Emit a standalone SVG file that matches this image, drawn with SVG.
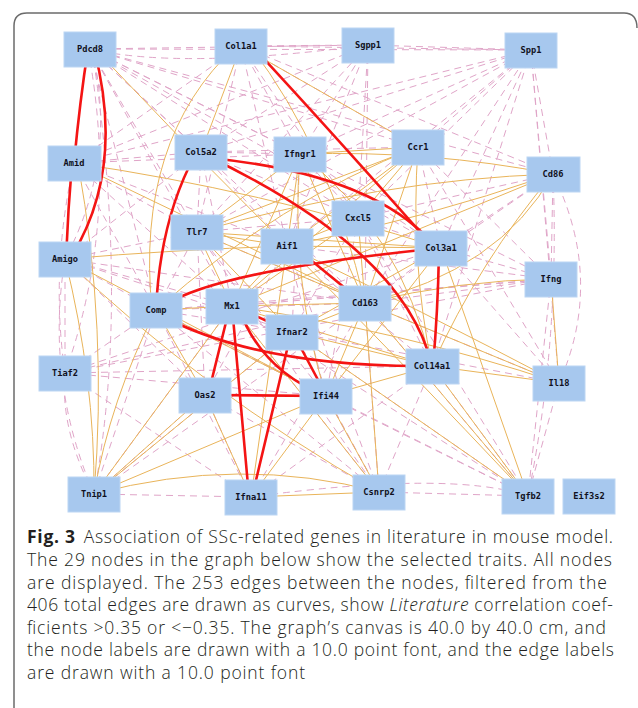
<svg xmlns="http://www.w3.org/2000/svg" width="638" height="708" viewBox="0 0 638 708">
<style>
.o{stroke:#E9B45A;stroke-width:1;fill:none}
.p{stroke:#E0A5C8;stroke-width:1;fill:none;stroke-dasharray:7 5}
.r{stroke:#F41414;stroke-width:2.6;fill:none;stroke-linecap:round}
.n rect{fill:#A7C8EE;stroke:#BCD6F3;stroke-width:1}
.n text{font-family:"DejaVu Sans Mono","Liberation Mono",monospace;font-weight:bold;font-size:8.7px;fill:#101020;text-anchor:middle}
.cap{font-family:"Open Sans","Noto Sans",sans-serif;font-size:17.5px;font-weight:300;fill:#231f20}
</style>
<rect x="0" y="0" width="638" height="708" fill="#ffffff"/>
<path d="M14,708 V26 Q14,13 27,13 H624 Q637,13 637,28" fill="none" stroke="#6b6b6b" stroke-width="1.5"/>
<g id="connectors">
<g id="pink">
<line class="p" x1="90" y1="49" x2="368" y2="45"/>
<line class="p" x1="90" y1="49" x2="531" y2="50"/>
<line class="p" x1="90" y1="49" x2="418" y2="147"/>
<line class="p" x1="90" y1="49" x2="553" y2="174"/>
<line class="p" x1="90" y1="49" x2="300" y2="154"/>
<line class="p" x1="90" y1="49" x2="358" y2="218"/>
<line class="p" x1="90" y1="49" x2="441" y2="248"/>
<line class="p" x1="90" y1="49" x2="201" y2="152"/>
<line class="p" x1="90" y1="49" x2="197" y2="232"/>
<line class="p" x1="90" y1="49" x2="156" y2="310"/>
<line class="p" x1="90" y1="49" x2="232" y2="306"/>
<line class="p" x1="90" y1="49" x2="365" y2="303"/>
<path class="p" d="M92,49 Q118,160 65,259"/>
<path class="p" d="M88,49 Q120,220 65,373"/>
<path class="p" d="M92,49 Q130,300 94,494"/>
<path class="p" d="M90,49 Q180,70 368,45"/>
<line class="p" x1="90" y1="49" x2="551" y2="279"/>
<line class="p" x1="241" y1="46" x2="368" y2="45"/>
<line class="p" x1="241" y1="46" x2="531" y2="50"/>
<line class="p" x1="241" y1="46" x2="418" y2="147"/>
<line class="p" x1="241" y1="46" x2="197" y2="232"/>
<line class="p" x1="241" y1="46" x2="287" y2="246"/>
<line class="p" x1="241" y1="46" x2="358" y2="218"/>
<line class="p" x1="241" y1="46" x2="74" y2="163"/>
<line class="p" x1="241" y1="46" x2="553" y2="174"/>
<line class="p" x1="241" y1="46" x2="300" y2="154"/>
<line class="p" x1="368" y1="45" x2="531" y2="50"/>
<line class="p" x1="368" y1="45" x2="74" y2="163"/>
<line class="p" x1="368" y1="45" x2="300" y2="154"/>
<line class="p" x1="368" y1="45" x2="358" y2="218"/>
<line class="p" x1="368" y1="45" x2="287" y2="246"/>
<line class="p" x1="368" y1="45" x2="201" y2="152"/>
<line class="p" x1="368" y1="45" x2="197" y2="232"/>
<line class="p" x1="368" y1="45" x2="365" y2="303"/>
<line class="p" x1="531" y1="50" x2="300" y2="154"/>
<line class="p" x1="531" y1="50" x2="418" y2="147"/>
<line class="p" x1="531" y1="50" x2="358" y2="218"/>
<line class="p" x1="531" y1="50" x2="441" y2="248"/>
<line class="p" x1="531" y1="50" x2="365" y2="303"/>
<line class="p" x1="531" y1="50" x2="432" y2="366"/>
<line class="p" x1="531" y1="50" x2="553" y2="174"/>
<line class="p" x1="531" y1="50" x2="551" y2="279"/>
<line class="p" x1="531" y1="50" x2="287" y2="246"/>
<line class="p" x1="531" y1="50" x2="197" y2="232"/>
<line class="p" x1="531" y1="50" x2="201" y2="152"/>
<line class="p" x1="531" y1="50" x2="74" y2="163"/>
<line class="p" x1="531" y1="50" x2="559" y2="383"/>
<line class="p" x1="74" y1="163" x2="201" y2="152"/>
<line class="p" x1="74" y1="163" x2="197" y2="232"/>
<line class="p" x1="74" y1="163" x2="156" y2="310"/>
<line class="p" x1="74" y1="163" x2="232" y2="306"/>
<line class="p" x1="74" y1="163" x2="287" y2="246"/>
<line class="p" x1="74" y1="163" x2="300" y2="154"/>
<path class="p" d="M74,163 Q50,270 65,373"/>
<line class="p" x1="201" y1="152" x2="197" y2="232"/>
<line class="p" x1="201" y1="152" x2="287" y2="246"/>
<line class="p" x1="201" y1="152" x2="65" y2="259"/>
<line class="p" x1="201" y1="152" x2="300" y2="154"/>
<line class="p" x1="201" y1="152" x2="358" y2="218"/>
<line class="p" x1="201" y1="152" x2="418" y2="147"/>
<line class="p" x1="201" y1="152" x2="232" y2="306"/>
<path class="p" d="M553,174 Q605,280 559,383"/>
<line class="p" x1="553" y1="174" x2="551" y2="279"/>
<path class="p" d="M553,174 Q560,340 528,496"/>
<line class="p" x1="553" y1="174" x2="441" y2="248"/>
<line class="p" x1="553" y1="174" x2="365" y2="303"/>
<line class="p" x1="553" y1="174" x2="358" y2="218"/>
<line class="p" x1="551" y1="279" x2="528" y2="496"/>
<line class="p" x1="551" y1="279" x2="441" y2="248"/>
<line class="p" x1="551" y1="279" x2="365" y2="303"/>
<line class="p" x1="551" y1="279" x2="232" y2="306"/>
<line class="p" x1="551" y1="279" x2="156" y2="310"/>
<line class="p" x1="551" y1="279" x2="65" y2="373"/>
<line class="p" x1="551" y1="279" x2="287" y2="246"/>
<line class="p" x1="559" y1="383" x2="528" y2="496"/>
<line class="p" x1="559" y1="383" x2="441" y2="248"/>
<line class="p" x1="559" y1="383" x2="365" y2="303"/>
<line class="p" x1="559" y1="383" x2="292" y2="332"/>
<line class="p" x1="528" y1="496" x2="379" y2="492"/>
<line class="p" x1="528" y1="496" x2="432" y2="366"/>
<line class="p" x1="528" y1="496" x2="365" y2="303"/>
<line class="p" x1="528" y1="496" x2="326" y2="396"/>
<line class="p" x1="528" y1="496" x2="232" y2="306"/>
<line class="p" x1="528" y1="496" x2="156" y2="310"/>
<line class="p" x1="528" y1="496" x2="292" y2="332"/>
<line class="p" x1="528" y1="496" x2="358" y2="218"/>
<path class="p" d="M528,496 Q450,470 251,497"/>
<line class="p" x1="379" y1="492" x2="432" y2="366"/>
<line class="p" x1="379" y1="492" x2="365" y2="303"/>
<line class="p" x1="379" y1="492" x2="326" y2="396"/>
<line class="p" x1="379" y1="492" x2="205" y2="395"/>
<line class="p" x1="379" y1="492" x2="292" y2="332"/>
<line class="p" x1="379" y1="492" x2="232" y2="306"/>
<line class="p" x1="379" y1="492" x2="287" y2="246"/>
<line class="p" x1="379" y1="492" x2="156" y2="310"/>
<line class="p" x1="379" y1="492" x2="197" y2="232"/>
<line class="p" x1="94" y1="494" x2="251" y2="497"/>
<path class="p" d="M94,494 Q60,430 65,373"/>
<path class="p" d="M94,494 Q45,380 65,259"/>
<line class="p" x1="94" y1="494" x2="156" y2="310"/>
<line class="p" x1="94" y1="494" x2="205" y2="395"/>
<line class="p" x1="94" y1="494" x2="232" y2="306"/>
<line class="p" x1="94" y1="494" x2="292" y2="332"/>
<line class="p" x1="94" y1="494" x2="365" y2="303"/>
<line class="p" x1="251" y1="497" x2="65" y2="373"/>
<line class="p" x1="251" y1="497" x2="156" y2="310"/>
<line class="p" x1="251" y1="497" x2="205" y2="395"/>
<line class="p" x1="251" y1="497" x2="432" y2="366"/>
<line class="p" x1="251" y1="497" x2="365" y2="303"/>
<line class="p" x1="65" y1="373" x2="65" y2="259"/>
<line class="p" x1="65" y1="373" x2="156" y2="310"/>
<line class="p" x1="65" y1="373" x2="365" y2="303"/>
<line class="p" x1="65" y1="373" x2="441" y2="248"/>
<line class="p" x1="65" y1="373" x2="326" y2="396"/>
<line class="p" x1="65" y1="373" x2="432" y2="366"/>
<line class="p" x1="65" y1="259" x2="156" y2="310"/>
<line class="p" x1="65" y1="259" x2="197" y2="232"/>
<line class="p" x1="65" y1="259" x2="232" y2="306"/>
<line class="p" x1="65" y1="259" x2="205" y2="395"/>
<line class="p" x1="65" y1="259" x2="292" y2="332"/>
<line class="p" x1="65" y1="259" x2="365" y2="303"/>
<line class="p" x1="156" y1="310" x2="197" y2="232"/>
<line class="p" x1="156" y1="310" x2="292" y2="332"/>
<line class="p" x1="156" y1="310" x2="365" y2="303"/>
<line class="p" x1="156" y1="310" x2="326" y2="396"/>
<line class="p" x1="197" y1="232" x2="358" y2="218"/>
<line class="p" x1="197" y1="232" x2="365" y2="303"/>
<line class="p" x1="197" y1="232" x2="205" y2="395"/>
<line class="p" x1="197" y1="232" x2="326" y2="396"/>
<line class="p" x1="358" y1="218" x2="441" y2="248"/>
<line class="p" x1="358" y1="218" x2="432" y2="366"/>
<line class="p" x1="358" y1="218" x2="326" y2="396"/>
<line class="p" x1="358" y1="218" x2="292" y2="332"/>
<line class="p" x1="418" y1="147" x2="441" y2="248"/>
<line class="p" x1="418" y1="147" x2="551" y2="279"/>
<line class="p" x1="418" y1="147" x2="559" y2="383"/>
<line class="p" x1="287" y1="246" x2="432" y2="366"/>
<line class="p" x1="287" y1="246" x2="326" y2="396"/>
<line class="p" x1="287" y1="246" x2="205" y2="395"/>
<line class="p" x1="441" y1="248" x2="365" y2="303"/>
<line class="p" x1="300" y1="154" x2="441" y2="248"/>
<line class="p" x1="300" y1="154" x2="358" y2="218"/>
<line class="p" x1="300" y1="154" x2="292" y2="332"/>
</g>
<g id="orange">
<line class="o" x1="241" y1="46" x2="201" y2="152"/>
<path class="o" d="M236,46 Q135,140 152,310"/>
<path class="o" d="M250,46 Q330,150 365,303"/>
<line class="o" x1="241" y1="46" x2="418" y2="147"/>
<path class="o" d="M95,49 Q190,150 287,246"/>
<path class="o" d="M74,163 Q260,190 441,248"/>
<path class="o" d="M78,163 Q108,330 94,494"/>
<line class="o" x1="74" y1="163" x2="365" y2="303"/>
<path class="o" d="M65,259 Q170,250 287,246"/>
<path class="o" d="M65,259 Q95,380 94,494"/>
<path class="o" d="M65,259 Q200,390 379,492"/>
<line class="o" x1="65" y1="259" x2="326" y2="396"/>
<line class="o" x1="156" y1="310" x2="232" y2="306"/>
<line class="o" x1="156" y1="310" x2="205" y2="395"/>
<line class="o" x1="156" y1="310" x2="326" y2="396"/>
<line class="o" x1="197" y1="232" x2="287" y2="246"/>
<line class="o" x1="197" y1="232" x2="418" y2="147"/>
<path class="o" d="M197,232 Q380,180 553,174"/>
<line class="o" x1="197" y1="232" x2="441" y2="248"/>
<line class="o" x1="197" y1="232" x2="232" y2="306"/>
<line class="o" x1="197" y1="232" x2="300" y2="154"/>
<line class="o" x1="197" y1="232" x2="365" y2="303"/>
<line class="o" x1="197" y1="232" x2="292" y2="332"/>
<path class="o" d="M300,154 Q430,150 553,174"/>
<line class="o" x1="300" y1="154" x2="418" y2="147"/>
<line class="o" x1="300" y1="154" x2="287" y2="246"/>
<line class="o" x1="300" y1="154" x2="365" y2="303"/>
<path class="o" d="M300,154 Q400,230 432,366"/>
<line class="o" x1="300" y1="154" x2="232" y2="306"/>
<path class="o" d="M300,154 Q290,280 326,396"/>
<line class="o" x1="418" y1="147" x2="287" y2="246"/>
<line class="o" x1="418" y1="147" x2="358" y2="218"/>
<line class="o" x1="418" y1="147" x2="365" y2="303"/>
<line class="o" x1="418" y1="147" x2="232" y2="306"/>
<path class="o" d="M418,147 Q280,200 156,310"/>
<path class="o" d="M418,147 Q410,260 432,366"/>
<path class="o" d="M553,174 Q420,220 287,246"/>
<path class="o" d="M553,174 Q480,260 432,366"/>
<path class="o" d="M553,174 Q500,270 365,303"/>
<line class="o" x1="553" y1="174" x2="232" y2="306"/>
<line class="o" x1="358" y1="218" x2="287" y2="246"/>
<line class="o" x1="358" y1="218" x2="232" y2="306"/>
<line class="o" x1="358" y1="218" x2="365" y2="303"/>
<path class="o" d="M287,246 Q400,360 528,496"/>
<line class="o" x1="287" y1="246" x2="232" y2="306"/>
<line class="o" x1="287" y1="246" x2="441" y2="248"/>
<path class="o" d="M287,246 Q420,310 559,383"/>
<line class="o" x1="287" y1="246" x2="251" y2="497"/>
<line class="o" x1="365" y1="303" x2="559" y2="383"/>
<line class="o" x1="365" y1="303" x2="326" y2="396"/>
<line class="o" x1="365" y1="303" x2="379" y2="492"/>
<line class="o" x1="365" y1="303" x2="528" y2="496"/>
<path class="o" d="M232,306 Q400,330 559,383"/>
<line class="o" x1="232" y1="306" x2="379" y2="492"/>
<line class="o" x1="232" y1="306" x2="365" y2="303"/>
<line class="o" x1="232" y1="306" x2="432" y2="366"/>
<line class="o" x1="232" y1="306" x2="94" y2="494"/>
<line class="o" x1="292" y1="332" x2="365" y2="303"/>
<line class="o" x1="292" y1="332" x2="432" y2="366"/>
<line class="o" x1="292" y1="332" x2="528" y2="496"/>
<line class="o" x1="292" y1="332" x2="94" y2="494"/>
<line class="o" x1="441" y1="248" x2="528" y2="496"/>
<line class="o" x1="441" y1="248" x2="326" y2="396"/>
<line class="o" x1="441" y1="248" x2="292" y2="332"/>
<line class="o" x1="432" y1="366" x2="528" y2="496"/>
<line class="o" x1="432" y1="366" x2="559" y2="383"/>
<line class="o" x1="432" y1="366" x2="326" y2="396"/>
<line class="o" x1="551" y1="279" x2="559" y2="383"/>
<path class="o" d="M551,279 Q460,280 365,303"/>
<line class="o" x1="205" y1="395" x2="251" y2="497"/>
<line class="o" x1="205" y1="395" x2="94" y2="494"/>
<line class="o" x1="326" y1="396" x2="251" y2="497"/>
<line class="o" x1="326" y1="396" x2="94" y2="494"/>
<line class="o" x1="326" y1="396" x2="379" y2="492"/>
<line class="o" x1="251" y1="497" x2="379" y2="492"/>
<path class="o" d="M94,494 Q240,455 379,492"/>
<path class="o" d="M94,494 Q110,400 156,310"/>
</g>
<g id="red">
<path class="r" d="M88,49 Q80,100 74,163"/>
<path class="r" d="M94,49 Q126,170 70,259"/>
<path class="r" d="M72,163 Q68,210 66,259"/>
<path class="r" d="M252,46 Q330,130 436,250"/>
<path class="r" d="M210,158 Q380,175 438,250"/>
<path class="r" d="M205,155 Q405,250 432,366"/>
<path class="r" d="M195,155 Q160,220 156,310"/>
<path class="r" d="M165,305 Q220,270 441,248"/>
<line class="r" x1="290" y1="243" x2="362" y2="302"/>
<path class="r" d="M160,315 Q260,368 432,366"/>
<path class="r" d="M439,250 Q438,310 433,366"/>
<line class="r" x1="245" y1="311" x2="280" y2="327"/>
<line class="r" x1="230" y1="306" x2="208" y2="395"/>
<line class="r" x1="232" y1="306" x2="249" y2="497"/>
<path class="r" d="M238,306 Q260,370 326,396"/>
<line class="r" x1="293" y1="333" x2="325" y2="393"/>
<line class="r" x1="291" y1="333" x2="252" y2="497"/>
<line class="r" x1="205" y1="395" x2="326" y2="396"/>
</g>
</g>
<g id="nodes">
<g id="n-Pdcd8" class="n"><rect x="64" y="32" width="52" height="35"/><text x="90" y="52">Pdcd8</text></g>
<g id="n-Col1a1" class="n"><rect x="215" y="29" width="52" height="35"/><text x="241" y="49">Col1a1</text></g>
<g id="n-Sgpp1" class="n"><rect x="342" y="28" width="52" height="35"/><text x="368" y="48">Sgpp1</text></g>
<g id="n-Spp1" class="n"><rect x="505" y="33" width="52" height="35"/><text x="531" y="53">Spp1</text></g>
<g id="n-Amid" class="n"><rect x="48" y="146" width="53" height="35"/><text x="74" y="166">Amid</text></g>
<g id="n-Col5a2" class="n"><rect x="175" y="135" width="52" height="35"/><text x="201" y="155">Col5a2</text></g>
<g id="n-Ifngr1" class="n"><rect x="274" y="137" width="52" height="35"/><text x="300" y="157">Ifngr1</text></g>
<g id="n-Ccr1" class="n"><rect x="392" y="130" width="52" height="35"/><text x="418" y="150">Ccr1</text></g>
<g id="n-Cd86" class="n"><rect x="527" y="157" width="53" height="35"/><text x="553" y="177">Cd86</text></g>
<g id="n-Cxcl5" class="n"><rect x="332" y="201" width="52" height="35"/><text x="358" y="221">Cxcl5</text></g>
<g id="n-Tlr7" class="n"><rect x="171" y="215" width="52" height="35"/><text x="197" y="235">Tlr7</text></g>
<g id="n-Aif1" class="n"><rect x="261" y="229" width="52" height="35"/><text x="287" y="249">Aif1</text></g>
<g id="n-Col3a1" class="n"><rect x="415" y="231" width="52" height="35"/><text x="441" y="251">Col3a1</text></g>
<g id="n-Amigo" class="n"><rect x="39" y="242" width="52" height="35"/><text x="65" y="262">Amigo</text></g>
<g id="n-Ifng" class="n"><rect x="525" y="262" width="52" height="35"/><text x="551" y="282">Ifng</text></g>
<g id="n-Comp" class="n"><rect x="130" y="293" width="52" height="35"/><text x="156" y="313">Comp</text></g>
<g id="n-Mx1" class="n"><rect x="206" y="289" width="52" height="35"/><text x="232" y="309">Mx1</text></g>
<g id="n-Cd163" class="n"><rect x="339" y="286" width="52" height="35"/><text x="365" y="306">Cd163</text></g>
<g id="n-Ifnar2" class="n"><rect x="266" y="315" width="52" height="35"/><text x="292" y="335">Ifnar2</text></g>
<g id="n-Tiaf2" class="n"><rect x="39" y="356" width="52" height="35"/><text x="65" y="376">Tiaf2</text></g>
<g id="n-Col14a1" class="n"><rect x="406" y="349" width="53" height="35"/><text x="432" y="369">Col14a1</text></g>
<g id="n-Il18" class="n"><rect x="533" y="366" width="52" height="35"/><text x="559" y="386">Il18</text></g>
<g id="n-Oas2" class="n"><rect x="179" y="378" width="52" height="35"/><text x="205" y="398">Oas2</text></g>
<g id="n-Ifi44" class="n"><rect x="300" y="379" width="52" height="35"/><text x="326" y="399">Ifi44</text></g>
<g id="n-Tnip1" class="n"><rect x="68" y="477" width="52" height="35"/><text x="94" y="497">Tnip1</text></g>
<g id="n-Ifna11" class="n"><rect x="225" y="480" width="52" height="35"/><text x="251" y="500">Ifna11</text></g>
<g id="n-Csnrp2" class="n"><rect x="353" y="475" width="52" height="35"/><text x="379" y="495">Csnrp2</text></g>
<g id="n-Tgfb2" class="n"><rect x="502" y="479" width="52" height="35"/><text x="528" y="499">Tgfb2</text></g>
<g id="n-Eif3s2" class="n"><rect x="563" y="479" width="52" height="35"/><text x="589" y="499">Eif3s2</text></g>
</g>
<g id="caption" class="cap">
<text x="27" y="543" textLength="586" lengthAdjust="spacing"><tspan font-weight="bold">Fig. 3</tspan><tspan dx="8">Association of SSc-related genes in literature in mouse model.</tspan></text>
<text x="27" y="566" textLength="585" lengthAdjust="spacing">The 29 nodes in the graph below show the selected traits. All nodes</text>
<text x="27" y="588.5" textLength="580" lengthAdjust="spacing">are displayed. The 253 edges between the nodes, filtered from the</text>
<text x="27" y="611" textLength="586" lengthAdjust="spacing">406 total edges are drawn as curves, show <tspan font-style="italic">Literature</tspan> correlation coef-</text>
<text x="27" y="633.5" textLength="579" lengthAdjust="spacing">ficients &gt;0.35 or &lt;−0.35. The graph’s canvas is 40.0 by 40.0 cm, and</text>
<text x="27" y="656" textLength="587" lengthAdjust="spacing">the node labels are drawn with a 10.0 point font, and the edge labels</text>
<text x="27" y="679" textLength="278" lengthAdjust="spacing">are drawn with a 10.0 point font</text>
</g>
</svg>
